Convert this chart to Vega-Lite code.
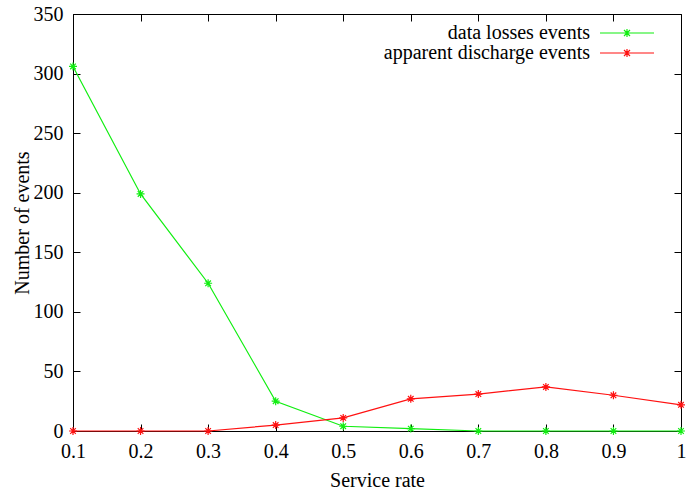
{
  "$schema": "https://vega.github.io/schema/vega-lite/v6.json",
  "autosize": "none",
  "width": 608,
  "height": 417,
  "padding": {"left": 73, "top": 14, "right": 18, "bottom": 60},
  "background": "white",
  "config": {
    "view": {"stroke": "black", "strokeWidth": 1},
    "font": "Liberation Serif",
    "axis": {
      "grid": false,
      "domainColor": "black",
      "tickColor": "black",
      "tickSize": -7,
      "labelFont": "Liberation Serif",
      "labelFontSize": 20,
      "labelColor": "black",
      "titleFont": "Liberation Serif",
      "titleFontSize": 20,
      "titleFontWeight": "normal",
      "titleColor": "black",
      "labelOverlap": false,
      "labelFlush": false
    },
    "legend": {
      "labelFont": "Liberation Serif",
      "labelFontSize": 20,
      "labelColor": "black",
      "labelLimit": 400
    }
  },
  "data": {
    "values": [
      {"rate": 0.1, "series": "data losses events", "events": 306},
      {"rate": 0.2, "series": "data losses events", "events": 199},
      {"rate": 0.3, "series": "data losses events", "events": 124},
      {"rate": 0.4, "series": "data losses events", "events": 25},
      {"rate": 0.5, "series": "data losses events", "events": 4},
      {"rate": 0.6, "series": "data losses events", "events": 2},
      {"rate": 0.7, "series": "data losses events", "events": 0},
      {"rate": 0.8, "series": "data losses events", "events": 0},
      {"rate": 0.9, "series": "data losses events", "events": 0},
      {"rate": 1.0, "series": "data losses events", "events": 0},
      {"rate": 0.1, "series": "apparent discharge events", "events": 0},
      {"rate": 0.2, "series": "apparent discharge events", "events": 0},
      {"rate": 0.3, "series": "apparent discharge events", "events": 0},
      {"rate": 0.4, "series": "apparent discharge events", "events": 5},
      {"rate": 0.5, "series": "apparent discharge events", "events": 11},
      {"rate": 0.6, "series": "apparent discharge events", "events": 27},
      {"rate": 0.7, "series": "apparent discharge events", "events": 31},
      {"rate": 0.8, "series": "apparent discharge events", "events": 37},
      {"rate": 0.9, "series": "apparent discharge events", "events": 30},
      {"rate": 1.0, "series": "apparent discharge events", "events": 22}
    ]
  },
  "layer": [
    {
      "mark": {"type": "line", "strokeWidth": 1.2},
      "encoding": {
        "x": {"field": "rate", "type": "quantitative",
              "scale": {"domain": [0.1, 1], "nice": false, "zero": false},
              "axis": {"orient": "top", "values": [0.1,0.2,0.3,0.4,0.5,0.6,0.7,0.8,0.9,1], "labels": false, "title": null, "domain": false}},
        "y": {"field": "events", "type": "quantitative",
              "scale": {"domain": [0, 350], "nice": false},
              "axis": {"orient": "right", "values": [0,50,100,150,200,250,300,350], "labels": false, "title": null, "domain": false}},
        "color": {"field": "series", "type": "nominal",
                  "scale": {"domain": ["data losses events", "apparent discharge events"], "range": ["#11ee11", "#ff1111"]},
                  "legend": {"title": null, "orient": "none", "legendX": 544, "legendY": 9, "padding": 0,
                             "symbolType": "M-5.4,0H5.4M-0.8,0H0.8M0,-0.8V0.8M-0.6,-0.6L0.6,0.6M-0.6,0.6L0.6,-0.6",
                             "symbolSize": 100, "symbolStrokeWidth": 1.2, "symbolFillColor": "transparent",
                             "labelAlign": "right", "labelOffset": -47, "rowPadding": -1}},
        "order": {"field": "rate", "type": "quantitative"}
      }
    },
    {
      "mark": {"type": "point", "shape": "M-1,0H1M0,-1V1M-0.7,-0.7L0.7,0.7M-0.7,0.7L0.7,-0.7", "filled": false, "size": 64, "strokeWidth": 1.2, "opacity": 1},
      "encoding": {
        "x": {"field": "rate", "type": "quantitative",
              "scale": {"domain": [0.1, 1], "nice": false, "zero": false},
              "axis": {"orient": "bottom", "values": [0.1,0.2,0.3,0.4,0.5,0.6,0.7,0.8,0.9,1], "format": ".1~f", "title": "Service rate", "labelPadding": 17, "titlePadding": 9}},
        "y": {"field": "events", "type": "quantitative",
              "scale": {"domain": [0, 350], "nice": false},
              "axis": {"orient": "left", "values": [0,50,100,150,200,250,300,350], "title": "Number of events", "labelPadding": 17, "titlePadding": 1}},
        "color": {"field": "series", "type": "nominal",
                  "scale": {"domain": ["data losses events", "apparent discharge events"], "range": ["#11ee11", "#ff1111"]},
                  "legend": {"title": null, "orient": "none", "legendX": 544, "legendY": 9, "padding": 0,
                             "symbolType": "M-5.4,0H5.4M-0.8,0H0.8M0,-0.8V0.8M-0.6,-0.6L0.6,0.6M-0.6,0.6L0.6,-0.6",
                             "symbolSize": 100, "symbolStrokeWidth": 1.2, "symbolFillColor": "transparent",
                             "labelAlign": "right", "labelOffset": -47, "rowPadding": -1}}
      }
    }
  ],
  "resolve": {"axis": {"x": "independent", "y": "independent"}}
}
